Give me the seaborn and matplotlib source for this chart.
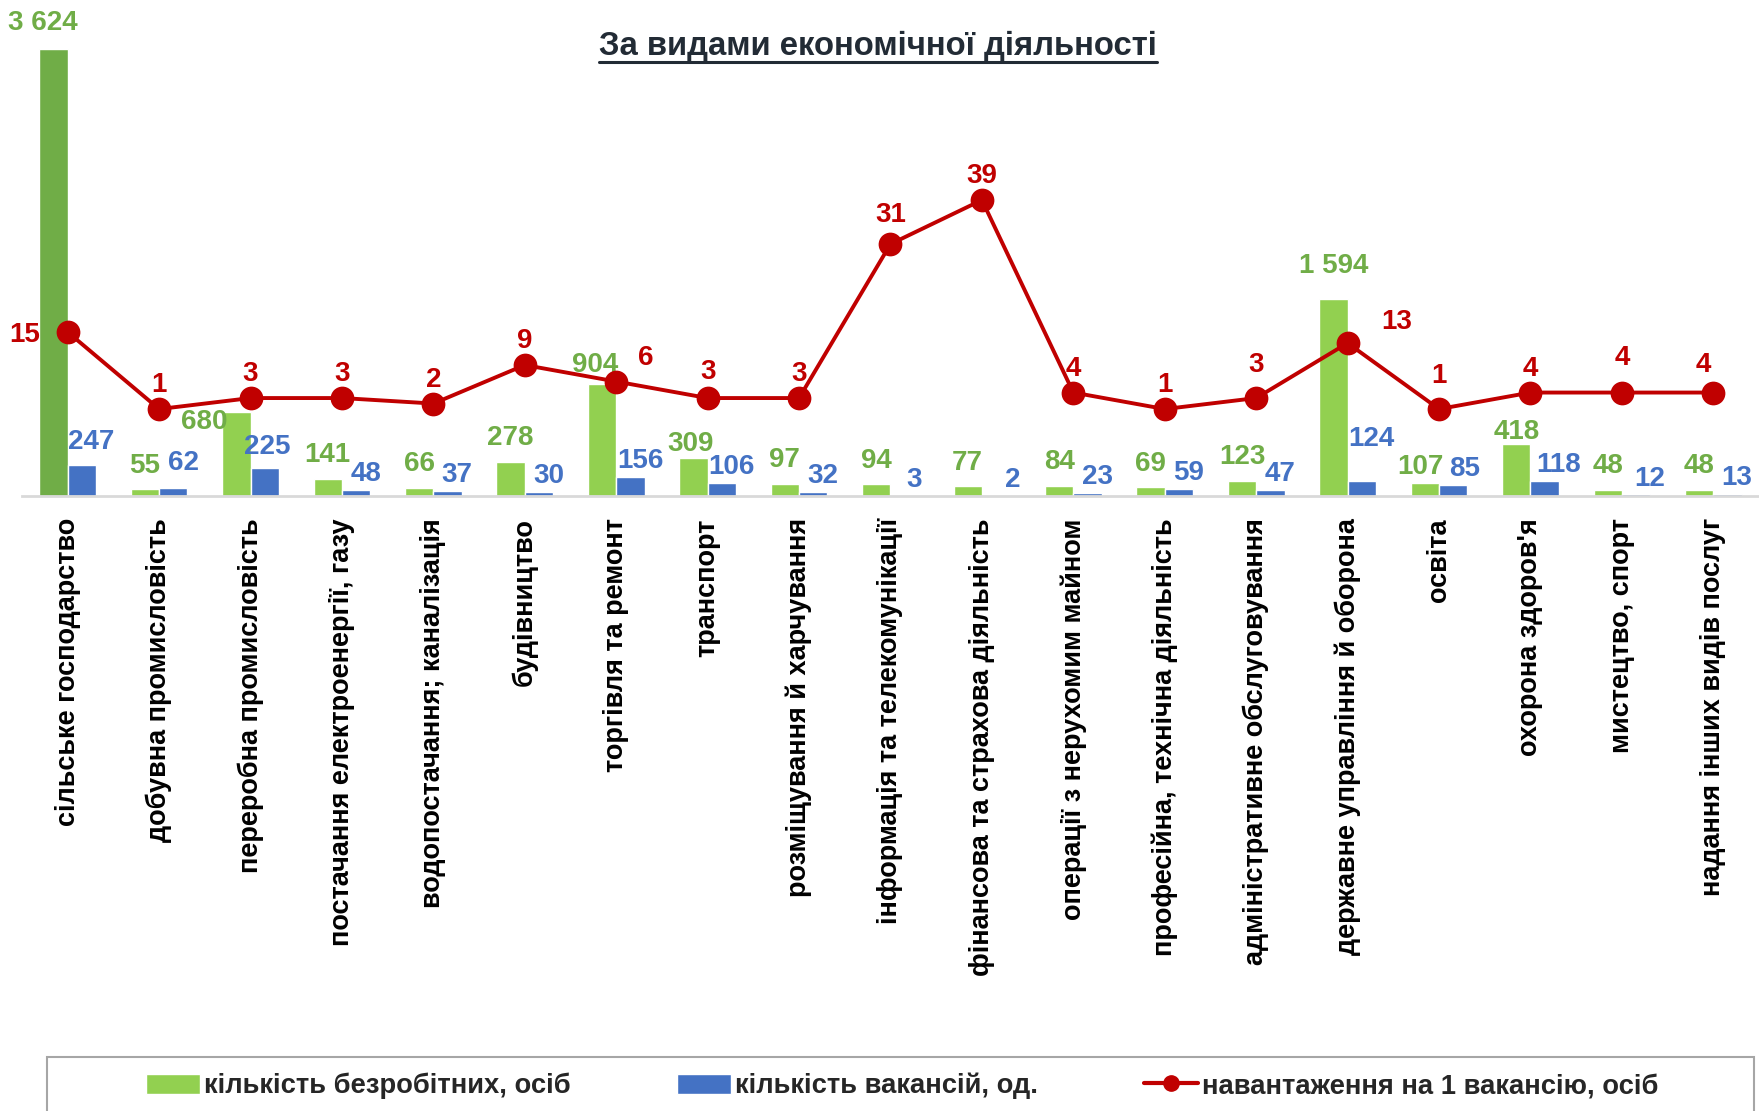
import numpy as np
import pandas as pd
import matplotlib
matplotlib.use('Agg')
import matplotlib.pyplot as plt
from matplotlib.patches import Patch, Rectangle
from matplotlib.lines import Line2D
import seaborn as sns

categories = ['сільське господарство', 'добувна промисловість', 'переробна промисловість',
              'постачання електроенергії, газу', 'водопостачання; каналізація', 'будівництво',
              'торгівля та ремонт', 'транспорт', 'розміщування й харчування',
              'інформація та телекомунікації', 'фінансова та страхова діяльність',
              'операції з нерухомим майном', 'професійна, технічна діяльність',
              'адміністративне обслуговування', 'державне управління й оборона', 'освіта',
              "охорона здоров'я", 'мистецтво, спорт', 'надання інших видів послуг']
unemployed = [3624, 55, 680, 141, 66, 278, 904, 309, 97, 94, 77, 84, 69, 123, 1594, 107, 418, 48, 48]
vacancies = [247, 62, 225, 48, 37, 30, 156, 106, 32, 3, 2, 23, 59, 47, 124, 85, 118, 12, 13]
load = [15, 1, 3, 3, 2, 9, 6, 3, 3, 31, 39, 4, 1, 3, 13, 1, 4, 4, 4]

lbl_unemp = 'кількість безробітних, осіб'
lbl_vac = 'кількість вакансій, од.'
lbl_load = 'навантаження на 1 вакансію, осіб'

green = '#92D050'
dark_green = '#70AD47'
blue = '#4472C4'
red = '#C00000'

sns.set_style('white')
plt.rcParams['font.family'] = ['Liberation Sans', 'DejaVu Sans']

df = pd.DataFrame({
    'cat': categories * 2,
    'value': unemployed + vacancies,
    'series': [lbl_unemp] * len(categories) + [lbl_vac] * len(categories),
})

fig = plt.figure(figsize=(17.59, 11.11), dpi=100)
ax = fig.add_axes([0.0125, 0.5536, 0.9875, 0.4104])

sns.barplot(data=df, x='cat', y='value', hue='series', palette=[green, blue],
            width=0.62, gap=0, saturation=1, errorbar=None, legend=False, ax=ax)
ax.containers[0].patches[0].set_facecolor(dark_green)

ax2 = ax.twinx()
sns.pointplot(x=categories, y=load, color=red, markers='o', ax=ax2,
              markersize=15, linewidth=2.8)

ax.set_ylim(0, 3698)
ax2.set_ylim(-14.8, 68.1)
ax.set_xlim(-0.5, len(categories) - 0.5)

for a in (ax, ax2):
    a.set_xlabel('')
    a.set_ylabel('')
    a.set_yticks([])
    for s in a.spines.values():
        s.set_visible(False)
ax.spines['bottom'].set_visible(True)
ax.spines['bottom'].set_color('#d9d9d9')
ax.spines['bottom'].set_linewidth(2)

ax.set_xticks(range(len(categories)))
ax.set_xticklabels(categories, rotation=90, fontsize=19.5, fontweight='bold', color='black')
ax.tick_params(axis='x', length=0, pad=16)

num_kw = dict(textcoords='offset points', fontsize=20, fontweight='bold', va='baseline', ha='center')

def fmt(v):
    return f'{v:,}'.replace(',', ' ')

# data labels, with a few hand nudges like the original
green_off = {0: (-8, 14), 2: (-23, -12), 6: (-5, 9), 7: (-2, 5), 14: (0, 19), 15: (-3, 6), 16: (0, 4)}
for i, p in enumerate(ax.containers[0].patches):
    dx, dy = green_off.get(i, (0, 12))
    ax.annotate(fmt(unemployed[i]), (p.get_x() + p.get_width() / 2, p.get_height()),
                xytext=(dx, dy), color=dark_green, **num_kw)

blue_off = {0: (7, 12), 1: (7, 13), 2: (2, 10), 10: (12, 6), 14: (7, 25), 15: (8, 6.5),
            16: (10, 6.5), 17: (10, 6)}
for i, p in enumerate(ax.containers[1].patches):
    dx, dy = blue_off.get(i, (7, 6.5))
    ax.annotate(fmt(vacancies[i]), (p.get_x() + p.get_width() / 2, p.get_height()),
                xytext=(dx, dy), color=blue, **num_kw)

red_off = {0: (-20, -7), 6: (21, 12), 7: (0, 14), 9: (0, 16), 13: (0, 19), 14: (35, 10),
           15: (0, 19), 17: (0, 20), 18: (-7, 15)}
for i, v in enumerate(load):
    dx, dy = red_off.get(i, (0, 12))
    kw = dict(num_kw)
    if i == 0:
        kw['ha'] = 'right'
    ax2.annotate(str(v), (i, v), xytext=(dx, dy), color=red, **kw)

title = fig.text(0.499, 1 - 46 / 1111, 'За видами економічної діяльності', ha='center',
                 va='center', fontsize=23.7, fontweight='bold', color='#222b35')
fig.canvas.draw()
bb = title.get_window_extent().transformed(fig.transFigure.inverted())
fig.add_artist(Line2D([bb.x0, bb.x1], [bb.y0 - 0.0005, bb.y0 - 0.0005],
                      color='#222b35', lw=2.2, transform=fig.transFigure))

# legend box, cut by the bottom edge as in the source
fig.add_artist(Rectangle((47 / 1759, -0.02), 1707 / 1759, 0.02 + 54 / 1111,
                         transform=fig.transFigure, fill=False, edgecolor='#a6a6a6', lw=1.5))
handles = [Patch(facecolor=green, label=lbl_unemp),
           Patch(facecolor=blue, label=lbl_vac),
           Line2D([], [], color=red, lw=3, marker='o', markersize=11, label=lbl_load)]
fig.legend(handles=handles, loc='center', bbox_to_anchor=(0.513, 0.0225), ncol=3,
           frameon=False, prop=dict(size=19.7, weight='bold'), handlelength=1.95,
           handleheight=0.75, handletextpad=0.15, columnspacing=3.9)

fig.savefig('out.png', dpi=100)
